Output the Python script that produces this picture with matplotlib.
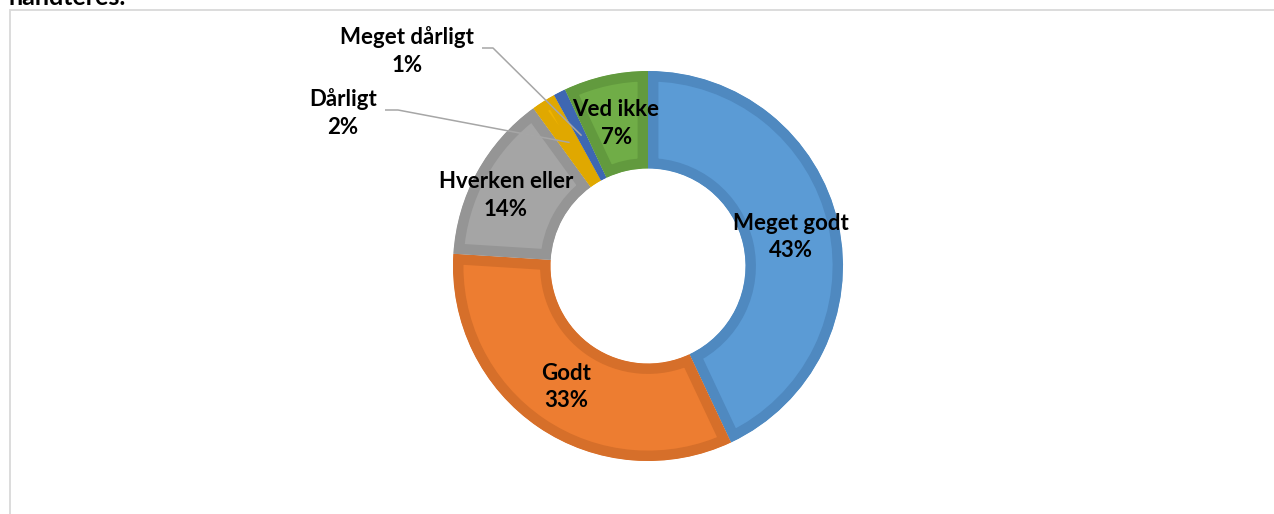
import numpy as np
import matplotlib
matplotlib.use("Agg")
import matplotlib.pyplot as plt
from matplotlib.patches import Rectangle

plt.rcParams['font.family'] = ['Lato', 'DejaVu Sans']

# Survey answers (share of respondents, %)
categories = ["Meget godt", "Godt", "Hverken eller", "Dårligt", "Meget dårligt", "Ved ikke"]
shares = [43, 33, 14, 2, 1, 7]
pct_labels = ["43%", "33%", "14%", "2%", "1%", "7%"]

fill_colors = ["#5B9BD5", "#ED7D31", "#A5A5A5", "#F0B400", "#4472C4", "#70AD47"]
edge_colors = ["#4F89C0", "#D66F2A", "#959595", "#E0A800", "#3E67B2", "#629A3E"]

W, H = 1274, 514
fig = plt.figure(figsize=(W / 100, H / 100), dpi=100)
ax = fig.add_axes([0, 0, 1, 1])

cx, cy, R = 648, H - 266, 195
wedges, _ = ax.pie(shares, colors=fill_colors, startangle=90, counterclock=False,
                   radius=R, center=(cx, cy),
                   wedgeprops=dict(width=R * 0.5, linewidth=15))
for w, ec in zip(wedges, edge_colors):
    w.set_edgecolor(ec)
    w.set_clip_on(True)
    w.set_clip_path(w)  # keep the outline stroke inside each segment

ax.set_xlim(0, W)
ax.set_ylim(0, H)
ax.set_aspect('equal')
ax.axis('off')

# chart-area frame
ax.add_patch(Rectangle((9.5, -50), W + 50, H - 9.5 + 50, fill=False,
                       edgecolor="#D9D9D9", linewidth=1.3, clip_on=False))

# partially visible heading above the chart
ax.text(8, H - 5, "håndteres.", fontsize=18, fontweight='bold', ha='left',
        va='baseline', color='black')

def mid_point(w, frac=0.75):
    ang = np.deg2rad((w.theta1 + w.theta2) / 2)
    r = R * frac
    return cx + r * np.cos(ang), cy + r * np.sin(ang)

text_kw = dict(fontsize=16, fontweight='bold', ha='center', va='center',
               multialignment='center', linespacing=1.38, color='black')

nudges = {0: (0, -3), 2: (-14, 0)}
outside = {3: (343, H - 113, 385, 398), 4: (407, H - 51, 482, 493)}

for i, (w, cat, lab) in enumerate(zip(wedges, categories, pct_labels)):
    mx, my = mid_point(w)
    if i in outside:
        tx, ty, lx0, lx1 = outside[i]
        ax.text(tx, ty, f"{cat}\n{lab}", **text_kw)
        ly = ty + 3
        ax.plot([lx0, lx1, mx], [ly, ly, my], color="#A6A6A6", linewidth=1.1,
                solid_capstyle='butt', zorder=5)
    else:
        dx, dy = nudges.get(i, (0, 0))
        ax.text(mx + dx, my + dy, f"{cat}\n{lab}", **text_kw)

fig.savefig("out.png", dpi=100)
